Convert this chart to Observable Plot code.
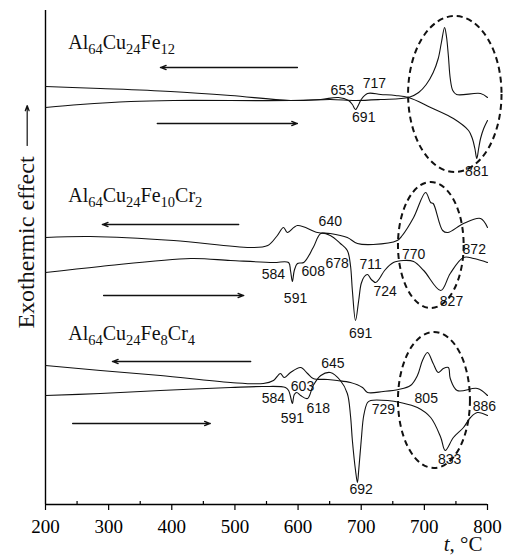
<!DOCTYPE html>
<html>
<head>
<meta charset="utf-8">
<script src="https://cdn.jsdelivr.net/npm/d3@7"></script>
<script src="https://cdn.jsdelivr.net/npm/@observablehq/plot@0.6"></script>
<style>
  html, body { margin: 0; padding: 0; background: #fff; }
</style>
</head>
<body>
<div id="chart"></div>
<script>
// ---- Axis ticks (labels as printed in the figure) ----
const tickValues = [200, 300, 400, 500, 600, 700, 800, 900];
const tickLabels = ["200", "300", "400", "500", "600", "700", "700", "800"];
const minorTickValues = [250, 350, 450, 550, 650, 750, 850];

// ---- DSC curves: temperature (°C) and signal (arbitrary units) ----
// Al64Cu24Fe12 — cooling
const fe12CoolT = [200,287,398,493,588,651,691,731,775,791,803,814,822,827,832,835,838,841,845,851,889,900];
const fe12CoolV = [418,416,413,409,404,405,404,405,407,412,420,432,446,462,477,468,449,426,414,410,411,407];
// Al64Cu24Fe12 — heating
const fe12HeatT = [200,255,335,403,588,636,664,680,686,691,696,700,710,731,754,775,810,846,870,876,880,883,886,889,894,900];
const fe12HeatV = [397,400,403,404,404,405,407,404,400,395,400,405,411,410,409,407,397,386,374,366,356,346,356,366,376,384];
// Al64Cu24Fe10Cr2 — cooling
const cr2CoolT = [200,271,403,525,552,566,577,583,599,631,651,678,694,719,757,765,783,802,810,814,829,837,862,889,900];
const cr2CoolV = [267,268,264,257,259,268,277,272,279,272,271,267,261,260,264,269,287,312,302,301,274,272,281,286,277];
// Al64Cu24Fe10Cr2 — heating
const cr2HeatT = [200,287,430,493,561,585,588,591,594,599,609,624,636,651,667,678,683,686,691,696,700,705,710,716,723,729,737,751,767,783,799,826,841,862,878,900];
const cr2HeatV = [232,238,246,244,242,242,234,223,234,241,242,257,271,269,261,254,239,214,184,204,221,228,230,225,222,226,234,242,244,243,234,214,231,247,246,242];
// Al64Cu24Fe8Cr4 — cooling
const cr4CoolT = [200,287,382,493,545,561,572,578,588,604,615,624,647,662,683,702,710,735,759,778,789,797,805,814,822,830,838,841,852,884,900];
const cr4CoolV = [139,134,129,122,121,124,131,127,132,137,131,126,125,124,122,117,112,113,115,119,129,144,152,141,132,136,137,126,114,116,109];
// Al64Cu24Fe8Cr4 — heating
const cr4HeatT = [200,287,382,493,545,580,585,588,591,594,598,604,615,624,636,651,667,678,683,686,691,694,696,700,704,710,715,742,762,789,810,826,833,846,862,873,884,900];
const cr4HeatV = [109,111,114,117,118,117,114,108,101,110,112,109,106,119,129,132,124,111,89,64,34,22,34,64,89,102,104,104,102,97,87,67,54,67,77,87,92,89];

// ---- Alloy names ----
const alloyNames = ["Al64Cu24Fe12", "Al64Cu24Fe10Cr2", "Al64Cu24Fe8Cr4"];
const alloyT = [236, 236, 236];
const alloyV = [456, 303, 165];

// ---- Peak temperature labels ----
const peakText = ["653","717","691","881",
                  "640","584","608","678","711","770","872","591","724","827","691",
                  "645","603","584","618","591","729","805","886","833","692"];
const peakT = [670,721,704,883,
               651,561,624,662,715,783,879,596,738,843,699,
               655,607,561,632,591,735,803,895,840,700];
const peakV = [410,417,383,329,
               279,226,229,237,236,246,251,202,209,199,167,
               137,114,102,92,82,91,102,94,41,11];

// ---- Heating / cooling direction arrows ----
const arrowFromT = [599, 377, 506, 292, 525, 243];
const arrowToT   = [382, 599, 290, 514, 306, 461];
const arrowV     = [437, 381, 280, 209, 143, 81];

// ---- Dashed ellipses around high-temperature effects ----
const ellipseT  = [849, 811, 816];
const ellipseV  = [410, 259, 104];
const ellipseRT = [74, 52, 57];
const ellipseRV = [78, 63, 68];

// ---- Y-axis label and its arrow ----
const yLabelText = ["Exothermic effect"];
const yLabelT = [170];
const yLabelV = [262];
const yArrowT = [171];
const yArrowFromV = [359];
const yArrowToV = [399];

// ---- Build tables ----
const curves = [
  {name: "Fe12 cooling", t: fe12CoolT, v: fe12CoolV},
  {name: "Fe12 heating", t: fe12HeatT, v: fe12HeatV},
  {name: "Cr2 cooling",  t: cr2CoolT,  v: cr2CoolV},
  {name: "Cr2 heating",  t: cr2HeatT,  v: cr2HeatV},
  {name: "Cr4 cooling",  t: cr4CoolT,  v: cr4CoolV},
  {name: "Cr4 heating",  t: cr4HeatT,  v: cr4HeatV}
];
const curveRows = curves.flatMap(c => c.t.map((t, i) => ({series: c.name, t, v: c.v[i]})));
const peakRows = peakText.map((s, i) => ({s, t: peakT[i], v: peakV[i]}));
const alloyRows = alloyNames.map((s, i) => ({s, t: alloyT[i], v: alloyV[i]}));
const arrowRows = arrowV.map((v, i) => ({t1: arrowFromT[i], t2: arrowToT[i], v}));
const ellipseRows = ellipseT.map((t, i) => ({t, v: ellipseV[i], rt: ellipseRT[i], rv: ellipseRV[i]}));
const yArrowRows = yArrowT.map((t, i) => ({t, v1: yArrowFromV[i], v2: yArrowToV[i]}));
const yLabelRows = yLabelText.map((s, i) => ({s, t: yLabelT[i], v: yLabelV[i]}));
const tickLabelOf = new Map(tickValues.map((d, i) => [d, tickLabels[i]]));

const plot = Plot.plot({
  width: 510,
  height: 556,
  marginLeft: 45,
  marginRight: 23,
  marginTop: 10,
  marginBottom: 52,
  x: {domain: [200, 900]},
  y: {domain: [0, 494], axis: null},
  style: {background: "#fff", color: "#000", fontFamily: "Liberation Serif"},
  marks: [
    Plot.axisX({ticks: tickValues, tickFormat: d => tickLabelOf.get(d), tickSize: 6, tickPadding: 9,
                fontSize: 19, fontFamily: "Liberation Serif", label: null, strokeWidth: 1.2}),
    Plot.tickX(minorTickValues, {x: d => d, insetTop: 491, strokeWidth: 1.2}),
    Plot.ruleY([0], {strokeWidth: 1.4}),
    Plot.ruleX([200], {strokeWidth: 1.4}),
    Plot.line(curveRows, {x: "t", y: "v", z: "series", curve: "catmull-rom", stroke: "#111", strokeWidth: 1.1}),
    Plot.arrow(arrowRows, {x1: "t1", x2: "t2", y1: "v", y2: "v", headLength: 7, headAngle: 40, stroke: "#111", strokeWidth: 1.3}),
    Plot.arrow(yArrowRows, {x1: "t", x2: "t", y1: "v1", y2: "v2", headLength: 7, headAngle: 40, stroke: "#111", strokeWidth: 1.2}),
    Plot.text(peakRows, {x: "t", y: "v", text: "s", lineAnchor: "bottom", fontSize: 14, fontFamily: "Liberation Sans", fill: "#111"}),
    Plot.text(alloyRows, {x: "t", y: "v", text: "s", textAnchor: "start", lineAnchor: "bottom", fontSize: 20, fontFamily: "Liberation Serif", fill: "#111"}),
    Plot.text(yLabelRows, {x: "t", y: "v", text: "s", rotate: -90, fontSize: 24, fontFamily: "Liberation Serif", fill: "#111"}),
    Plot.text(["t, °C"], {frameAnchor: "bottom-right", textAnchor: "end", lineAnchor: "bottom", dx: -5, dy: 46, fontSize: 21, fontFamily: "Liberation Serif", fill: "#111"})
  ]
});

// Dashed ellipses positioned through the plot's scales
const sx = plot.scale("x"), sy = plot.scale("y");
d3.select(plot).append("g")
  .attr("fill", "none").attr("stroke", "#111").attr("stroke-width", 2).attr("stroke-dasharray", "6,4")
  .selectAll("ellipse").data(ellipseRows).join("ellipse")
  .attr("cx", d => sx.apply(d.t))
  .attr("cy", d => sy.apply(d.v))
  .attr("rx", d => Math.abs(sx.apply(d.t + d.rt) - sx.apply(d.t)))
  .attr("ry", d => Math.abs(sy.apply(d.v + d.rv) - sy.apply(d.v)));

// Subscripts in alloy formulas and italic variable name
d3.select(plot).selectAll("text").each(function () {
  const s = this.textContent;
  const el = d3.select(this);
  if (/^Al\d/.test(s)) {
    el.text(null);
    let shifted = false;
    s.match(/[A-Za-z]+|\d+/g).forEach(p => {
      const ts = el.append("tspan").text(p);
      if (/\d/.test(p)) {
        ts.attr("font-size", 14.5);
        if (!shifted) ts.attr("dy", 5);
        shifted = true;
      } else {
        if (shifted) ts.attr("dy", -5);
        shifted = false;
      }
    });
  } else if (s === "t, °C") {
    el.text(null);
    el.append("tspan").attr("font-style", "italic").text("t");
    el.append("tspan").text(", °C");
  }
});

document.getElementById("chart").appendChild(plot);
</script>
</body>
</html>
